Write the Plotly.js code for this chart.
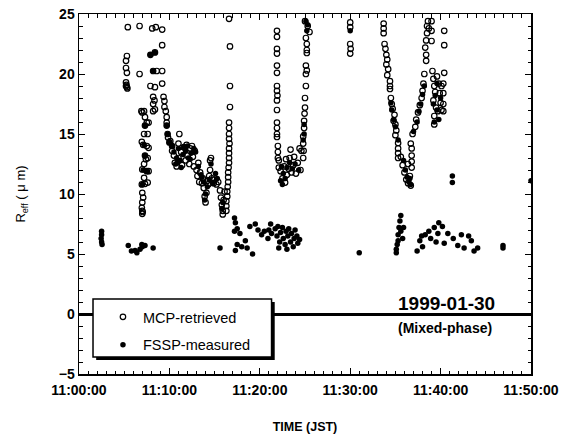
<!DOCTYPE html>
<html>
<head>
<meta charset="utf-8">
<script src="https://cdn.plot.ly/plotly-3.0.1.min.js"></script>
<style>html,body{margin:0;padding:0;background:#fff;}#chart{width:572px;height:438px;}</style>
</head>
<body>
<div id="chart"></div>
<script>
// minutes after 11:00:00 JST, Reff in micrometres
const mcpMin = [
  5.4,5.3,5.2,5.2,5.3,5.2,5.25,5.3,5.2,5.35,
  6.7,6.7,6.9,7.0,7.2,7.3,7.5,7.7,7.3,7.2,7.6,6.95,7.1,7.5,7.7,7.3,7.4,7.6,7.2,7.0,7.5,7.7,7.2,6.95,7.3,7.6,7.0,7.1,7.0,6.95,7.0,7.0,7.05,
  8.1,8.5,9.2,9.2,7.9,8.4,8.2,8.6,9.2,7.9,8.4,9.2,8.2,8.35,8.2,8.4,8.2,9.35,9.45,9.45,9.6,9.7,9.7,9.7,9.8,9.85,10.0,10.3,
  10.1,10.3,10.5,10.6,10.8,11.0,11.0,11.1,11.3,11.4,11.6,11.8,11.9,12.0,12.2,12.3,12.5,12.6,12.7,12.8,13.0,13.1,13.2,13.3,13.4,13.6,13.7,13.8,13.9,14.0,14.1,14.2,14.3,14.4,14.5,14.5,14.6,14.7,14.9,15.0,15.2,15.4,15.6,15.7,15.8,15.9,15.9,16.0,16.1,
  16.6,16.7,16.7,16.7,16.6,16.6,16.6,16.6,16.65,16.6,16.6,16.6,16.6,16.55,16.5,16.5,16.5,16.45,16.4,16.4,16.3,16.3,16.3,
  21.9,21.9,21.9,21.9,21.9,21.9,21.9,21.9,21.95,21.9,21.9,21.9,21.9,21.9,21.9,22.0,22.0,22.0,22.1,22.1,
  22.3,22.5,22.7,22.8,22.9,23.0,23.2,23.3,23.4,23.5,23.7,23.8,24.0,24.2,24.4,24.5,24.6,
  25.0,25.3,25.5,25.1,25.2,25.2,25.2,25.1,25.2,25.1,25.1,25.0,25.0,24.95,24.9,24.9,24.8,24.8,24.85,24.8,
  30.0,30.0,30.0,30.05,30.0,
  33.7,33.7,33.7,33.8,33.9,34.0,34.1,34.0,34.2,34.1,34.4,34.4,34.4,34.5,34.6,34.7,34.9,34.8,35.0,35.1,35.0,35.3,35.3,35.3,35.3,35.6,35.8,36.0,36.2,36.4,36.6,36.7,36.4,
  36.8,36.8,36.8,36.8,36.7,36.9,37.2,37.3,37.5,37.7,37.9,38.0,38.1,38.2,38.4,38.4,38.3,38.4,38.5,38.5,38.6,38.7,
  39.0,39.0,39.0,39.1,39.2,39.3,39.4,39.2,39.5,39.3,39.3,39.6,39.8,39.9,40.0,40.1,39.7,40.1,
  40.4,40.4,40.4,40.3,40.3,40.3,40.3
];
const mcpReff = [
  23.9,21.5,21.1,20.5,20.1,19.3,19.1,18.9,19.0,18.8,
  24.0,20.0,16.9,16.8,16.9,16.4,15.95,15.95,15.7,15.0,15.0,14.35,14.1,14.0,13.85,13.2,12.9,13.0,12.5,12.05,11.9,11.9,11.35,10.8,10.85,10.95,10.1,9.7,9.3,8.85,8.6,8.35,8.5,
  23.8,23.9,23.7,22.4,21.6,21.8,20.25,20.25,20.25,19.0,18.9,19.2,18.1,17.8,17.5,17.05,16.9,18.1,17.75,17.25,16.9,16.4,15.95,15.7,15.0,14.7,14.3,14.0,
  14.4,13.6,13.2,12.6,12.3,13.0,14.2,15.0,13.5,12.4,13.9,12.8,14.1,13.2,12.5,13.8,14.0,13.1,12.3,13.6,12.0,11.5,12.6,11.0,11.8,10.9,11.3,10.5,9.8,9.3,10.1,11.1,10.8,11.5,12.0,12.8,13.0,11.3,10.9,11.2,10.8,11.0,10.3,9.7,9.1,8.6,8.3,9.5,10.2,
  24.6,22.3,19.0,17.25,15.95,15.5,15.0,14.6,14.2,13.8,13.4,13.0,12.6,12.2,11.8,11.4,11.0,10.6,10.2,9.8,9.4,9.0,8.6,
  23.6,23.1,22.1,21.7,20.7,20.1,19.0,18.6,18.2,17.8,17.0,15.95,15.5,15.0,14.75,14.0,13.5,13.0,12.8,12.2,
  11.9,11.3,12.3,10.95,12.9,11.6,12.1,13.0,13.7,11.8,12.4,13.1,11.7,12.6,13.8,12.0,13.6,
  24.4,24.0,23.5,23.0,22.5,22.0,21.75,20.7,20.3,20.0,19.0,18.0,17.2,16.7,16.1,15.5,14.8,14.2,13.6,13.0,
  24.3,23.9,22.5,22.1,21.7,
  24.2,23.8,23.4,22.5,22.1,21.6,21.2,20.8,20.4,19.9,19.4,19.0,18.75,18.0,17.5,17.1,16.6,16.1,15.8,15.3,14.9,14.25,13.8,13.4,13.0,13.1,12.4,11.8,11.2,10.9,11.5,10.7,12.5,
  12.2,12.7,13.2,13.8,14.2,15.0,15.6,16.2,16.8,17.4,18.0,18.6,19.2,20.0,21.1,21.6,22.2,22.8,23.4,24.0,24.4,23.8,
  24.4,23.6,22.75,20.25,19.6,19.0,18.5,17.8,17.2,16.5,15.8,19.8,19.2,18.4,17.6,19.0,16.9,17.0,
  23.6,22.4,20.1,19.2,18.4,17.5,16.9
];
const fsspMin = [
  2.5,2.5,2.45,2.5,2.55,
  5.45,5.8,6.4,6.75,6.95,7.3,7.0,6.2,8.2,
  15.6,
  17.2,17.3,17.5,17.8,17.2,17.5,17.3,18.0,18.4,18.6,19.2,18.9,19.5,19.8,20.2,20.5,20.9,21.3,
  21.7,21.9,22.0,22.2,22.3,22.5,22.6,22.8,22.9,23.1,23.2,23.4,23.5,23.7,23.8,23.9,24.1,24.2,24.4,22.1,23.0,21.2,21.0,
  31.0,
  35.6,35.5,35.4,35.3,35.3,35.1,35.1,35.9,35.8,35.6,35.2,
  37.4,37.7,38.3,38.7,39.3,39.8,40.2,39.7,40.8,40.4,41.4,42.3,43.1,41.9,42.6,43.7,43.4,44.1,38.0,38.9,39.5,37.9,
  46.9,46.9,
  50.0,
  7.9,8.4,8.2,9.7,9.8,10.0,10.3,7.3,7.2,7.3,7.1,7.5,7.0,
  10.5,10.8,11.2,11.5,11.8,12.1,12.4,12.0,12.7,11.0,10.7,11.3,13.2,13.5,13.8,14.0,14.4,14.6,15.3,15.8,15.9,13.9,
  10.9,11.6,12.3,12.9,13.6,14.2,14.8,15.1,
  22.4,22.6,22.8,23.0,23.3,23.6,23.9,24.3,22.3,22.5,
  25.1,25.3,25.2,24.9,24.9,24.8,
  30.0,
  34.5,34.6,34.8,35.0,35.3,35.9,36.1,36.3,36.5,36.6,36.7,
  37.0,37.4,37.6,37.8,38.0,38.2,
  39.2,39.4,39.6,39.8,39.3,40.0,39.6,
  41.3,41.3
];
const fsspReff = [
  6.9,6.6,6.3,6.0,5.8,
  5.7,5.25,5.1,5.4,5.8,5.7,5.6,5.3,5.5,
  5.5,
  8.0,7.6,7.1,6.7,6.9,5.8,5.3,5.6,6.1,5.5,5.0,7.3,7.5,7.0,6.6,6.9,6.3,6.7,
  7.1,6.5,7.3,6.0,6.8,7.2,6.3,5.8,6.9,6.5,7.1,6.0,6.7,5.6,6.3,7.0,6.5,5.9,6.2,5.5,5.4,7.5,7.0,
  5.1,
  8.2,7.75,7.2,6.6,6.1,5.4,5.1,7.2,6.3,6.9,5.8,
  5.25,6.1,6.6,6.9,7.2,7.6,7.3,6.7,6.7,5.9,6.3,6.6,6.5,5.7,5.5,5.25,6.1,5.5,5.6,6.3,6.0,6.5,
  5.5,5.7,
  11.1,
  21.6,21.8,20.25,15.7,15.0,14.3,14.0,15.7,14.1,13.2,12.0,11.9,10.8,
  13.5,13.0,12.8,13.3,13.6,13.0,13.4,14.0,13.8,13.8,12.5,12.2,12.3,11.6,11.0,10.0,11.2,12.5,11.3,8.8,9.3,9.5,
  12.6,13.9,12.9,13.5,11.4,10.6,10.9,11.7,
  12.3,11.7,11.3,12.2,12.6,12.1,12.5,12.0,11.1,10.8,
  24.4,24.1,23.6,15.8,15.0,14.5,
  23.6,
  17.6,17.0,16.2,15.6,14.5,12.8,12.0,11.4,11.0,11.3,10.8,
  15.2,16.0,16.9,17.5,18.3,19.0,
  17.5,18.2,17.0,16.2,16.0,18.0,19.2,
  11.5,10.95
];
const xTickVals = [0,10,20,30,40,50];
const xTickText = ['11:00:00','11:10:00','11:20:00','11:30:00','11:40:00','11:50:00'];
const yTickVals = [-5,0,5,10,15,20,25];

const FONT = 'Liberation Sans, Arial, sans-serif';

const traces = [
  {x: mcpMin, y: mcpReff, type: 'scatter', mode: 'markers', name: 'MCP-retrieved', legendgroup: 'a',
   marker: {symbol: 'circle-open', size: 5.5, color: '#000', line: {width: 1.2, color: '#000'}}},
  {x: fsspMin, y: fsspReff, type: 'scatter', mode: 'markers', name: 'FSSP-measured', legendgroup: 'b',
   marker: {symbol: 'circle', size: 5.5, color: '#000'}}
];

const layout = {
  width: 572, height: 438,
  margin: {l: 79, r: 41, t: 14, b: 64},
  paper_bgcolor: '#fff', plot_bgcolor: '#fff',
  font: {family: FONT, color: '#000'},
  showlegend: true,
  legend: {x: 0.053, y: 0.203, xanchor: 'left', yanchor: 'top', bgcolor: 'rgba(0,0,0,0)',
           borderwidth: 0, font: {size: 14.5, family: FONT}, tracegroupgap: 6},
  shapes: [
    {type: 'rect', xref: 'paper', yref: 'paper', x0: 0.038, x1: 0.433, y0: 0.039, y1: 0.2,
     fillcolor: '#000', line: {width: 0}, layer: 'above'},
    {type: 'rect', xref: 'paper', yref: 'paper', x0: 0.031, x1: 0.426, y0: 0.047, y1: 0.208,
     fillcolor: '#fff', line: {width: 1.5, color: '#000'}, layer: 'above'}
  ],
  xaxis: {
    range: [0, 50], tickmode: 'array', tickvals: xTickVals, ticktext: xTickText,
    ticks: 'inside', ticklen: 6, tickwidth: 1, tickcolor: '#000', ticklabelstandoff: 3,
    minor: {dtick: 1, tick0: 0, ticks: 'inside', ticklen: 3.5, tickcolor: '#000', showgrid: false},
    showline: true, linecolor: '#000', linewidth: 1.5, mirror: 'allticks',
    showgrid: false, zeroline: false,
    tickfont: {size: 14, family: FONT, weight: 'bold'},
    title: {text: '<b>TIME (JST)</b>', font: {size: 12.5}, standoff: 25}
  },
  yaxis: {
    range: [-5, 25], tickmode: 'array', tickvals: yTickVals,
    ticks: 'inside', ticklen: 6, tickwidth: 1, tickcolor: '#000',
    minor: {dtick: 1, tick0: 0, ticks: 'inside', ticklen: 3.5, tickcolor: '#000', showgrid: false},
    showline: true, linecolor: '#000', linewidth: 1.5, mirror: 'allticks',
    showgrid: false, zeroline: true, zerolinecolor: '#000', zerolinewidth: 3,
    tickfont: {size: 14, family: FONT, weight: 'bold'},
    title: {text: 'R<sub>eff</sub> ( μ m)', font: {size: 13}, standoff: 30}
  },
  annotations: [
    {xref: 'paper', yref: 'paper', x: 0.814, y: 0.162, xanchor: 'center', yanchor: 'bottom',
     text: '<b>1999-01-30</b>', showarrow: false, font: {size: 19, family: FONT}},
    {xref: 'paper', yref: 'paper', x: 0.809, y: 0.1, xanchor: 'center', yanchor: 'bottom',
     text: '<b>(Mixed-phase)</b>', showarrow: false, font: {size: 14, family: FONT}}
  ]
};

Plotly.newPlot('chart', traces, layout, {displayModeBar: false, staticPlot: true});
</script>
</body>
</html>
